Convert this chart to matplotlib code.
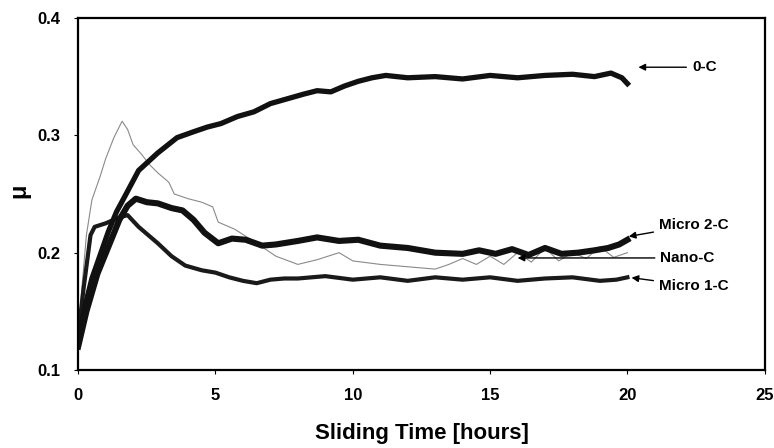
import numpy as np
import matplotlib.pyplot as plt

plt.rcParams['font.family'] = ['Liberation Sans', 'DejaVu Sans']
plt.rcParams['font.weight'] = 'bold'

# sliding time [h] vs friction coefficient
t_0c = [0, 0.2, 0.5, 0.8, 1.1, 1.4, 1.7, 2.2, 2.9, 3.6, 4.2, 4.7, 5.2, 5.8, 6.4, 7.0, 7.6, 8.2, 8.7,
        9.2, 9.7, 10.2, 10.7, 11.2, 12, 13, 14, 15, 16, 17, 18, 18.8, 19.4, 19.8, 20.0]
mu_0c = [0.125, 0.15, 0.178, 0.198, 0.218, 0.235, 0.248, 0.27, 0.285, 0.298, 0.303, 0.307, 0.31, 0.316,
         0.32, 0.327, 0.331, 0.335, 0.338, 0.337, 0.342, 0.346, 0.349, 0.351, 0.349, 0.35, 0.348, 0.351,
         0.349, 0.351, 0.352, 0.35, 0.353, 0.349, 0.344]

t_m2 = [0, 0.3, 0.7, 1.1, 1.5, 1.8, 2.1, 2.5, 2.9, 3.4, 3.8, 4.2, 4.6, 5.1, 5.6, 6.1, 6.7, 7.2, 8.0,
        8.7, 9.5, 10.2, 11, 12, 13, 14, 14.6, 15.2, 15.8, 16.4, 17.0, 17.6, 18.2, 18.8, 19.3, 19.7, 20.0]
mu_m2 = [0.12, 0.15, 0.182, 0.205, 0.228, 0.24, 0.246, 0.243, 0.242, 0.238, 0.236, 0.228, 0.217,
         0.208, 0.212, 0.211, 0.206, 0.207, 0.21, 0.213, 0.21, 0.211, 0.206, 0.204, 0.2, 0.199, 0.202,
         0.199, 0.203, 0.198, 0.204, 0.199, 0.2, 0.202, 0.204, 0.207, 0.211]

t_nano = [0, 0.1, 0.3, 0.5, 0.8, 1.0, 1.3, 1.6, 1.8, 2.0, 2.3, 2.6, 2.9, 3.3, 3.5, 4.0, 4.5, 4.9, 5.1,
          5.7, 6.5, 7.2, 8.0, 8.7, 9.5, 10, 11, 12, 13, 13.5, 14, 14.5, 15, 15.5, 16, 16.5, 17, 17.5,
          18, 18.5, 19, 19.5, 20.0]
mu_nano = [0.12, 0.16, 0.215, 0.245, 0.265, 0.28, 0.298, 0.312, 0.305, 0.292, 0.284, 0.275, 0.268,
           0.26, 0.25, 0.246, 0.243, 0.239, 0.226, 0.22, 0.208, 0.197, 0.19, 0.194, 0.2, 0.193, 0.19,
           0.188, 0.186, 0.19, 0.195, 0.19, 0.197, 0.19, 0.2, 0.192, 0.204, 0.193, 0.2, 0.195, 0.205,
           0.196, 0.2]

t_m1 = [0, 0.2, 0.45, 0.6, 1.0, 1.5, 1.8, 2.2, 2.9, 3.4, 3.9, 4.5, 5.0, 5.5, 6.0, 6.5, 7.0, 7.5, 8.0,
        9.0, 10, 11, 12, 13, 14, 15, 16, 17, 18, 19, 19.6, 20.0]
mu_m1 = [0.13, 0.17, 0.215, 0.222, 0.225, 0.23, 0.232, 0.222, 0.208, 0.197, 0.189, 0.185, 0.183,
         0.179, 0.176, 0.174, 0.177, 0.178, 0.178, 0.18, 0.177, 0.179, 0.176, 0.179, 0.177, 0.179,
         0.176, 0.178, 0.179, 0.176, 0.177, 0.179]

fig = plt.figure(figsize=(7.74, 4.48), dpi=100)
ax = fig.add_axes([0.101, 0.174, 0.887, 0.786])

ax.plot(t_nano, mu_nano, color='#8a8a8a', lw=0.8)
ax.plot(t_m1, mu_m1, color='#1a1a1a', lw=3.0)
ax.plot(t_m2, mu_m2, color='#111111', lw=4.4)
ax.plot(t_0c, mu_0c, color='#111111', lw=3.8)

ax.set_xlim(0, 25)
ax.set_ylim(0.1, 0.4)
ax.set_xticks([0, 5, 10, 15, 20, 25])
ax.set_yticks([0.1, 0.2, 0.3, 0.4])
ax.set_yticklabels(['0.1', '0.2', '0.3', '0.4'])
ax.tick_params(direction='out', length=3, width=0.8, labelsize=12)
ax.tick_params(axis='y', pad=10)
ax.tick_params(axis='x', pad=10)
for s in ax.spines.values():
    s.set_linewidth(1.6)

ax.set_xlabel('Sliding Time [hours]', fontsize=16, fontweight='bold', labelpad=14)
ax.set_ylabel('μ', fontsize=17, fontweight='bold', rotation=90)
ax.yaxis.set_label_coords(-0.07, 0.51)

arrow = dict(arrowstyle='-|>', color='black', lw=1.0, mutation_scale=10)
ax.annotate('0-C', xy=(20.3, 0.358), xytext=(22.35, 0.358), fontsize=11,
            va='center', ha='left', arrowprops=arrow)
ax.annotate('Micro 2-C', xy=(19.95, 0.2134), xytext=(21.15, 0.2236), fontsize=11,
            va='center', ha='left', arrowprops=arrow)
ax.annotate('Nano-C', xy=(15.9, 0.1955), xytext=(21.2, 0.1955), fontsize=11,
            va='center', ha='left', arrowprops=arrow)
ax.annotate('Micro 1-C', xy=(20.05, 0.179), xytext=(21.15, 0.1716), fontsize=11,
            va='center', ha='left', arrowprops=arrow)

fig.savefig('out.png', dpi=100)
